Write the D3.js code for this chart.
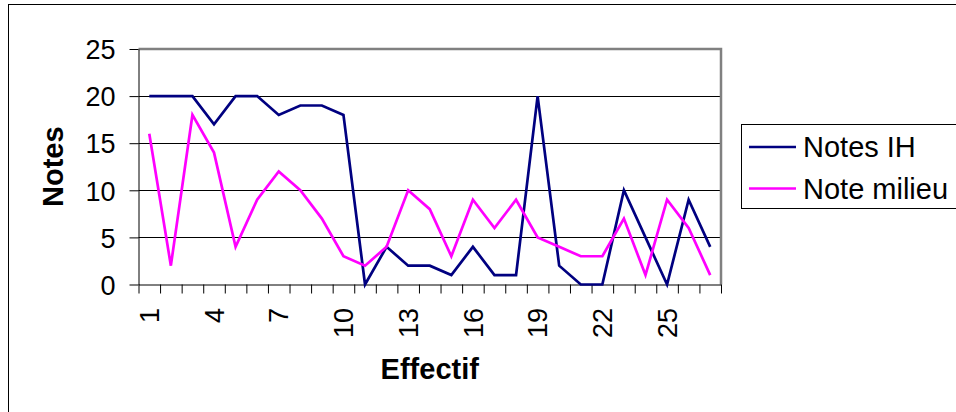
<!DOCTYPE html>
<meta charset="utf-8">
<script src="https://d3js.org/d3.v7.min.js"></script>
<style>
  body { margin: 0; background: #fff; }
  svg text { font-family: "Liberation Sans", Arial, sans-serif; }
</style>
<svg id="chart" width="956" height="412"></svg>
<script>
  // data
  var effectif = d3.range(1, 28);
  var notesIH = [20, 20, 20, 17, 20, 20, 18, 19, 19, 18, 0, 4, 2, 2, 1, 4, 1, 1, 20, 2, 0, 0, 10, 5, 0, 9, 4];
  var noteMilieu = [16, 2, 18, 14, 4, 9, 12, 10, 7, 3, 2, 4, 10, 8, 3, 9, 6, 9, 5, 4, 3, 3, 7, 1, 9, 6, 1];
  var yTicks = [0, 5, 10, 15, 20, 25];
  var seriesNames = ["Notes IH", "Note milieu"];
  var seriesColors = ["#000080", "#ff00ff"];

  var svg = d3.select("#chart");

  // outer chart border (runs off the right and bottom edge)
  svg.append("rect")
    .attr("x", 8.5).attr("y", 4.5)
    .attr("width", 1000).attr("height", 500)
    .attr("fill", "none").attr("stroke", "#000");

  // plot area (note: "top" is reserved on window, so use pTop etc.)
  var pLeft = 138.5, pRight = 721, pTop = 49, pBottom = 284.5;

  // x is linear over category boundaries, points sit in the middle
  var x = d3.scaleLinear().domain([0, effectif.length]).range([pLeft, pRight]);
  var y = d3.scaleLinear().domain([0, 25]).range([pBottom, pTop]);

  // gridlines
  svg.append("g")
    .selectAll("line")
    .data(yTicks.filter(function (d) { return d > 0 && d < 25; }))
    .enter().append("line")
    .attr("x1", pLeft).attr("x2", pRight)
    .attr("y1", function (d) { return Math.round(y(d)) + 0.5; })
    .attr("y2", function (d) { return Math.round(y(d)) + 0.5; })
    .attr("stroke", "#000").attr("stroke-width", 1);

  // plot area border (top + right, gray)
  svg.append("path")
    .attr("d", "M" + pLeft + "," + pTop + "H" + pRight + "V" + pBottom)
    .attr("fill", "none").attr("stroke", "#808080").attr("stroke-width", 2.5);

  // y axis
  var yAxis = svg.append("g")
    .attr("transform", "translate(" + pLeft + ",0)")
    .call(d3.axisLeft(y).tickValues(yTicks).tickSize(9).tickSizeOuter(0).tickPadding(14));
  yAxis.select(".domain").attr("stroke", "#000");
  yAxis.selectAll(".tick line").attr("stroke", "#000");
  yAxis.selectAll("text").style("font-size", "27px").attr("fill", "#000").attr("dy", "0.36em");

  // x axis: ticks at category boundaries
  var xAxis = svg.append("g")
    .attr("transform", "translate(0," + pBottom + ")")
    .call(d3.axisBottom(x).tickValues(d3.range(0, effectif.length + 1)).tickFormat("").tickSize(9).tickSizeOuter(0));
  xAxis.select(".domain").attr("stroke", "#000");
  xAxis.selectAll(".tick line").attr("stroke", "#000");

  // category labels, every third one, rotated
  svg.append("g")
    .selectAll("text")
    .data(effectif.filter(function (d, i) { return i % 3 === 0; }))
    .enter().append("text")
    .attr("transform", function (d) { return "translate(" + x(d - 0.5) + ",308) rotate(-90)"; })
    .attr("text-anchor", "end")
    .attr("dy", "0.36em")
    .style("font-size", "27px")
    .text(function (d) { return d; });

  // lines
  var line = d3.line()
    .x(function (d, i) { return x(i + 0.5); })
    .y(function (d) { return y(d); });

  [notesIH, noteMilieu].forEach(function (s, k) {
    svg.append("path")
      .datum(s)
      .attr("d", line)
      .attr("fill", "none")
      .attr("stroke", seriesColors[k])
      .attr("stroke-width", 2.7)
      .attr("stroke-linejoin", "miter");
  });

  // axis titles
  svg.append("text")
    .attr("x", (pLeft + pRight) / 2).attr("y", 379)
    .attr("text-anchor", "middle")
    .style("font-size", "29px").style("font-weight", "bold")
    .text("Effectif");

  svg.append("text")
    .attr("transform", "translate(63," + (pTop + pBottom) / 2 + ") rotate(-90)")
    .attr("text-anchor", "middle")
    .style("font-size", "29px").style("font-weight", "bold")
    .text("Notes");

  // legend
  var lg = svg.append("g");
  lg.append("rect")
    .attr("x", 741.5).attr("y", 124.5)
    .attr("width", 300).attr("height", 84)
    .attr("fill", "#fff").attr("stroke", "#000");
  seriesNames.forEach(function (n, k) {
    var ly = 147 + k * 41.5;
    lg.append("line")
      .attr("x1", 749).attr("x2", 796)
      .attr("y1", ly).attr("y2", ly)
      .attr("stroke", seriesColors[k]).attr("stroke-width", 2.5);
    lg.append("text")
      .attr("x", 803).attr("y", ly)
      .attr("dy", "0.36em")
      .style("font-size", "29px")
      .text(n);
  });
</script>
